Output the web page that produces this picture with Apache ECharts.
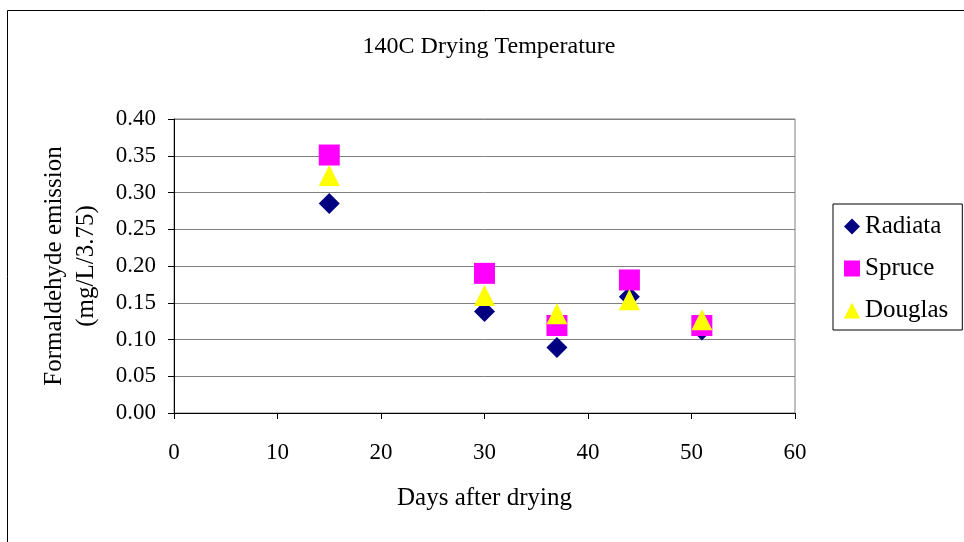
<!DOCTYPE html>
<html>
<head>
<meta charset="utf-8">
<script src="https://cdn.jsdelivr.net/npm/echarts@6/dist/echarts.min.js"></script>
<style>
  html, body { margin: 0; padding: 0; background: #fff; }
  #chart { width: 964px; height: 542px; }
</style>
</head>
<body>
<div id="chart"></div>
<script>
// 数据：天数与三种木材的甲醛释放量
const days = [15, 30, 37, 44, 51]
const radiata = [0.285, 0.138, 0.089, 0.158, 0.113]
const spruce = [0.351, 0.190, 0.119, 0.181, 0.119]
const douglas = [0.323, 0.160, 0.135, 0.154, 0.127]

const font = 'Liberation Serif'

const toPoints = (values) => days.map((d, i) => [d, values[i]])

const chart = echarts.init(document.getElementById('chart'))

chart.setOption({
  animation: false,
  backgroundColor: '#fff',
  textStyle: { fontFamily: font, color: '#000' },

  // 外框
  graphic: [
    {
      type: 'rect',
      shape: { x: 7.5, y: 10.5, width: 1000, height: 600 },
      style: { fill: 'none', stroke: '#000', lineWidth: 1 },
      silent: true,
    },
  ],

  title: {
    text: '140C Drying Temperature',
    left: 484,
    textAlign: 'center',
    top: 30,
    textStyle: { fontFamily: font, fontSize: 24, fontWeight: 'normal', color: '#000' },
  },

  legend: {
    orient: 'vertical',
    left: 833,
    top: 204,
    padding: [10, 14, 7, 11],
    borderColor: '#000',
    borderWidth: 1,
    itemWidth: 16,
    itemHeight: 16,
    itemGap: 17,
    textStyle: { fontFamily: font, fontSize: 25, color: '#000' },
    data: [
      { name: 'Radiata', icon: 'diamond' },
      { name: 'Spruce', icon: 'rect' },
      { name: 'Douglas', icon: 'triangle' },
    ],
  },

  grid: {
    left: 174,
    right: 169,
    top: 119,
    bottom: 129,
    show: true,
    borderColor: '#808080',
    borderWidth: 1,
  },

  xAxis: {
    type: 'value',
    min: 0,
    max: 60,
    interval: 10,
    name: 'Days after drying',
    nameLocation: 'middle',
    nameGap: 73,
    nameTextStyle: { fontFamily: font, fontSize: 25, color: '#000' },
    axisLine: { lineStyle: { color: '#000', width: 1 } },
    axisTick: { inside: false, length: 6, lineStyle: { color: '#000' } },
    axisLabel: { margin: 28, fontFamily: font, fontSize: 23, color: '#000' },
    splitLine: { show: false },
  },

  yAxis: {
    type: 'value',
    min: 0,
    max: 0.4,
    interval: 0.05,
    name: 'Formaldehyde emission\n(mg/L/3.75)',
    nameLocation: 'middle',
    nameRotate: 90,
    nameGap: 72,
    nameTextStyle: { fontFamily: font, fontSize: 25, color: '#000', lineHeight: 32 },
    axisLine: { show: true, lineStyle: { color: '#000', width: 1 } },
    axisTick: { show: true, inside: false, length: 6, lineStyle: { color: '#000' } },
    axisLabel: {
      margin: 18,
      fontFamily: font,
      fontSize: 23,
      color: '#000',
      formatter: (v) => v.toFixed(2),
    },
    splitLine: { show: true, lineStyle: { color: '#808080', width: 1 } },
  },

  series: [
    {
      name: 'Radiata',
      type: 'scatter',
      symbol: 'diamond',
      symbolSize: 21,
      itemStyle: { color: '#000080', opacity: 1 },
      data: toPoints(radiata),
    },
    {
      name: 'Spruce',
      type: 'scatter',
      symbol: 'rect',
      symbolSize: 21,
      itemStyle: { color: '#ff00ff', opacity: 1 },
      data: toPoints(spruce),
    },
    {
      name: 'Douglas',
      type: 'scatter',
      symbol: 'triangle',
      symbolSize: 21,
      itemStyle: { color: '#ffff00', opacity: 1 },
      data: toPoints(douglas),
    },
  ],
})
</script>
</body>
</html>
